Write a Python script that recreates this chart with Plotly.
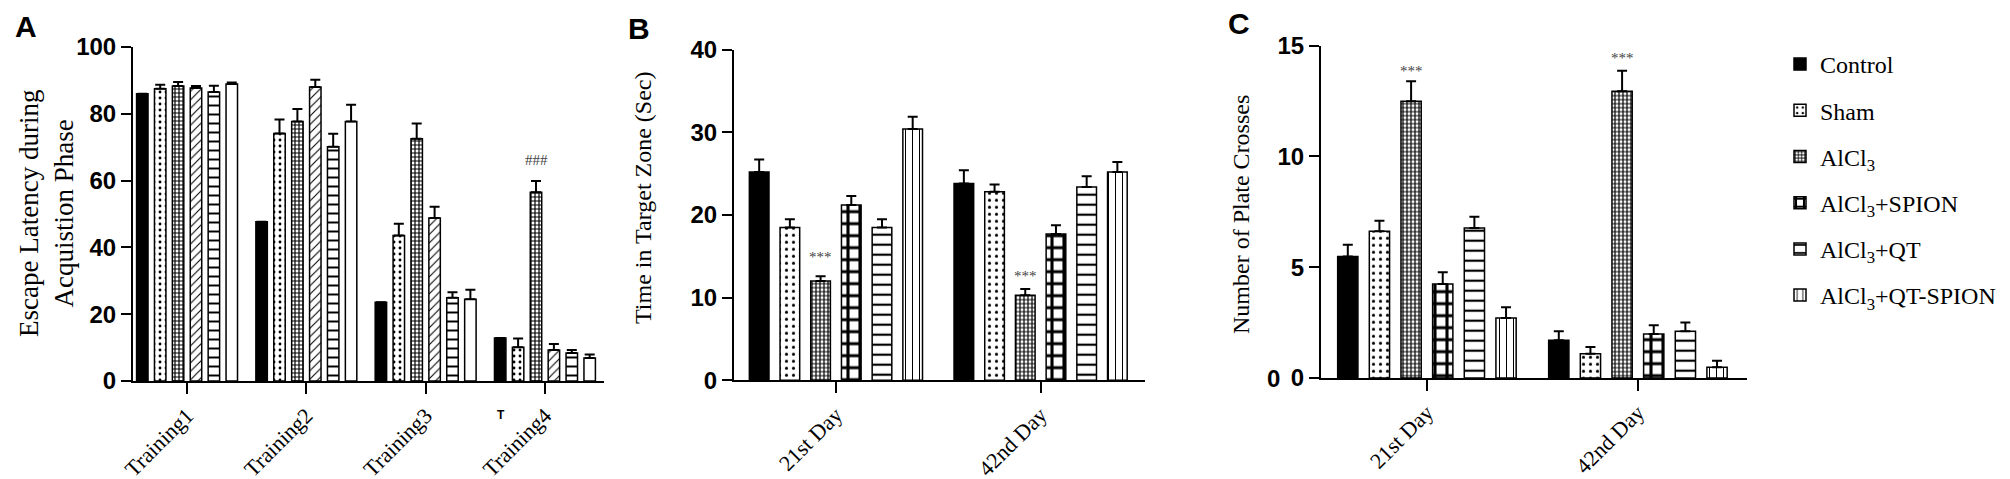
import plotly.graph_objects as go

W, H = 2010, 479

groups = ["Control", "Sham", "AlCl<sub>3</sub>", "AlCl<sub>3</sub>+SPION",
          "AlCl<sub>3</sub>+QT", "AlCl<sub>3</sub>+QT-SPION"]

# Panel A: escape latency
a_cats = ["Training1", "Training2", "Training3", "Training4"]
a_control = [86.0, 47.7, 23.6, 12.9]
a_sham = [87.5, 74.1, 43.6, 10.1]
a_alcl3 = [88.3, 77.7, 72.5, 56.5]
a_spion = [87.7, 88.0, 48.8, 9.3]
a_qt = [86.5, 70.1, 24.9, 8.4]
a_qtspion = [88.9, 77.7, 24.5, 6.9]
a_control_err = [0, 0, 0, 0]
a_sham_err = [1.2, 4.2, 3.5, 2.6]
a_alcl3_err = [1.2, 3.7, 4.6, 3.4]
a_spion_err = [0.6, 2.2, 3.4, 1.8]
a_qt_err = [1.9, 3.9, 1.7, 0.9]
a_qtspion_err = [0.5, 5.0, 2.8, 1.0]

# Panel B: time in target zone
b_cats = ["21st Day", "42nd Day"]
b_control = [25.2, 23.8]
b_sham = [18.5, 22.8]
b_alcl3 = [12.0, 10.3]
b_spion = [21.2, 17.7]
b_qt = [18.5, 23.4]
b_qtspion = [30.4, 25.2]
b_control_err = [1.5, 1.6]
b_sham_err = [1.0, 0.9]
b_alcl3_err = [0.6, 0.75]
b_spion_err = [1.1, 1.05]
b_qt_err = [1.0, 1.3]
b_qtspion_err = [1.5, 1.2]

# Panel C: number of plate crosses
c_cats = ["21st Day", "42nd Day"]
c_control = [5.49, 1.70]
c_sham = [6.62, 1.10]
c_alcl3 = [12.49, 12.94]
c_spion = [4.24, 1.99]
c_qt = [6.77, 2.11]
c_qtspion = [2.71, 0.48]
c_control_err = [0.53, 0.41]
c_sham_err = [0.48, 0.30]
c_alcl3_err = [0.91, 0.93]
c_spion_err = [0.53, 0.39]
c_qt_err = [0.51, 0.40]
c_qtspion_err = [0.48, 0.30]

a_ticks = [0, 20, 40, 60, 80, 100]
b_ticks = [0, 10, 20, 30, 40]
c_ticks = [0, 5, 10, 15]

SERIF = "Liberation Serif, Times New Roman, serif"
SANS = "Liberation Sans, Arial, sans-serif"
NARROW = "Liberation Sans Narrow, Arial Narrow, Liberation Sans, sans-serif"

def pat(shape, size=6, sol=0.3):
    return dict(shape=shape, size=size, solidity=sol, fgcolor="black", bgcolor="white", fillmode="replace")

pats_A = [None, pat(".", 6, 0.18), pat("+", 4, 0.5), pat("/", 6, 0.18), pat("-", 9, 0.22), None]
pats_BC = [None, pat(".", 7, 0.16), pat("+", 4, 0.5), pat("+", 12, 0.45), pat("-", 10, 0.22), pat("|", 7, 0.15)]

fig = go.Figure()

def add_panel(cats, series, errs, pats, xa, ya, legend):
    for i, (name, vals, err, p) in enumerate(zip(groups, series, errs, pats)):
        marker = dict(color="black" if i == 0 else "white",
                      line=dict(color="black", width=1.5))
        if p is not None:
            marker["pattern"] = p
        fig.add_trace(go.Bar(
            x=cats, y=vals, name=name, xaxis=xa, yaxis=ya, marker=marker,
            error_y=dict(type="data", array=err, arrayminus=[0] * len(err), symmetric=False,
                         color="black", thickness=2, width=5),
            showlegend=legend, legendgroup=name))

add_panel(a_cats, [a_control, a_sham, a_alcl3, a_spion, a_qt, a_qtspion],
          [a_control_err, a_sham_err, a_alcl3_err, a_spion_err, a_qt_err, a_qtspion_err],
          pats_A, "x", "y", False)
add_panel(b_cats, [b_control, b_sham, b_alcl3, b_spion, b_qt, b_qtspion],
          [b_control_err, b_sham_err, b_alcl3_err, b_spion_err, b_qt_err, b_qtspion_err],
          pats_BC, "x2", "y2", False)
add_panel(c_cats, [c_control, c_sham, c_alcl3, c_spion, c_qt, c_qtspion],
          [c_control_err, c_sham_err, c_alcl3_err, c_spion_err, c_qt_err, c_qtspion_err],
          pats_BC, "x3", "y3", True)

def px(x):
    return x / W

def py(y):
    return 1 - y / H

xcommon = dict(type="category", showline=True, linecolor="black", linewidth=2,
               ticks="outside", ticklen=11, tickwidth=1.5, tickcolor="black",
               tickangle=-45, tickfont=dict(family=SERIF, size=22, color="black"),
               showgrid=False, zeroline=False, automargin=False)
ycommon = dict(showline=True, linecolor="black", linewidth=2, ticks="outside",
               ticklen=10, tickwidth=2, tickcolor="black",
               tickfont=dict(family=NARROW, size=24, color="black", weight="bold"),
               showgrid=False, zeroline=False, automargin=False)

fig.update_layout(
    template="none",
    width=W, height=H, margin=dict(l=0, r=0, t=0, b=0, pad=0, autoexpand=False),
    paper_bgcolor="white", plot_bgcolor="white",
    barmode="group", bargap=0.1, bargroupgap=0.36,
    xaxis=dict(xcommon, domain=[px(125), px(596)], range=[-0.453, 3.495], anchor="y"),
    yaxis=dict(ycommon, domain=[py(373), py(39)], range=[0, 100], tickvals=a_ticks, anchor="x"),
    xaxis2=dict(xcommon, domain=[px(726), px(1137)], range=[-0.498, 1.51], anchor="y2"),
    yaxis2=dict(ycommon, domain=[py(372.3), py(41.7)], range=[0, 40], tickvals=b_ticks, anchor="x2"),
    xaxis3=dict(xcommon, domain=[px(1313), px(1739)], range=[-0.502, 1.517], anchor="y3"),
    yaxis3=dict(ycommon, domain=[py(370), py(37.7)], range=[0, 15], tickvals=c_ticks, anchor="x3"),
    legend=dict(x=px(1772), y=py(34), xanchor="left", yanchor="top",
                font=dict(family=SERIF, size=24, color="black"),
                tracegroupgap=12, bgcolor="rgba(0,0,0,0)", borderwidth=0),
)

ann = []
# panel letters
for letter, x, y in [("A", 18, 18), ("B", 631, 20), ("C", 1231, 16)]:
    ann.append(dict(text=letter, x=px(x), y=py(y), xref="paper", yref="paper",
                    xanchor="center", yanchor="middle",
                    showarrow=False, font=dict(family=SANS, size=30, color="black", weight="bold")))
# axis titles
for text, x, y, size in [("Escape Latency during<br>Acquistion Phase", 38, 206, 27),
                         ("Time in Target Zone (Sec)", 635, 190, 24),
                         ("Number of Plate Crosses", 1233, 207, 24)]:
    ann.append(dict(text=text, x=px(x), y=py(y), xref="paper", yref="paper", textangle=-90,
                    xanchor="center", yanchor="middle",
                    showarrow=False, font=dict(family=SERIF, size=size, color="black")))
# significance marks
for text, xr, yr, x, y in [("###", "x", "y", 2.925, 66.2),
                           ("***", "x2", "y2", -0.075, 14.9),
                           ("***", "x2", "y2", 0.925, 12.65),
                           ("***", "x3", "y3", -0.075, 13.87),
                           ("***", "x3", "y3", 0.925, 14.44)]:
    ann.append(dict(text=text, x=x, y=y, xref=xr, yref=yr, showarrow=False,
                    xanchor="center", yanchor="middle",
                    font=dict(family=SERIF, size=15, color="#444444")))
# stray marks in the original figure
ann.append(dict(text="T", x=px(493), y=py(407), xref="paper", yref="paper", showarrow=False,
                xanchor="center", yanchor="middle",
                font=dict(family=SANS, size=12, color="black", weight="bold")))
ann.append(dict(text="0", x=px(1265), y=py(370), xref="paper", yref="paper", showarrow=False,
                xanchor="center", yanchor="middle",
                font=dict(family=NARROW, size=24, color="black", weight="bold")))
fig.update_layout(annotations=ann)

fig.write_html("out.html")
